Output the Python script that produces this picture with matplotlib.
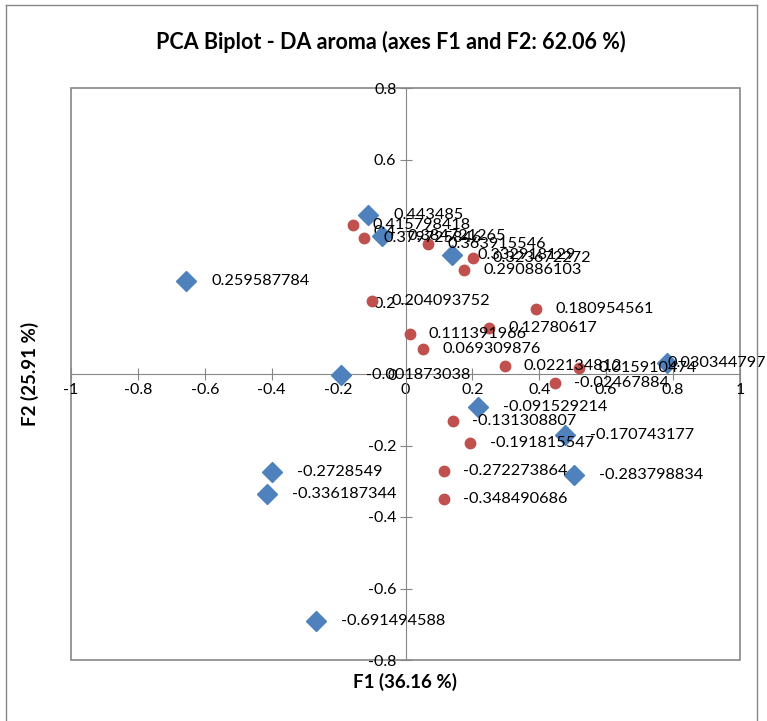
import matplotlib.pyplot as plt
from matplotlib.patches import Rectangle
from matplotlib.lines import Line2D

plt.rcParams['font.family'] = ['Lato', 'DejaVu Sans']

# observations (blue diamonds): F1, F2
obs_x = [-0.111, -0.069, -0.655, -0.194, -0.398, -0.413, -0.269,
         0.218, 0.478, 0.505, 0.783, 0.140]
obs_y = [0.443485, 0.384721265, 0.259587784, -0.001873038, -0.2728549,
         -0.336187344, -0.691494588, -0.091529214, -0.170743177,
         -0.283798834, 0.030344797, 0.332918129]

# variables (red dots): F1, F2
var_x = [-0.158, -0.123, 0.066, 0.203, 0.176, -0.099, 0.012, 0.051,
         0.251, 0.389, 0.296, 0.520, 0.446, 0.141, 0.194, 0.114, 0.114]
var_y = [0.415798418, 0.379725846, 0.363915546, 0.323672272, 0.290886103,
         0.204093752, 0.111391966, 0.069309876, 0.12780617, 0.180954561,
         0.022134812, 0.015910474, -0.02467884, -0.131308807,
         -0.191815547, -0.272273864, -0.348490686]

ticks_x = [-1, -0.8, -0.6, -0.4, -0.2, 0, 0.2, 0.4, 0.6, 0.8, 1]
ticks_y = [-0.8, -0.6, -0.4, -0.2, 0, 0.2, 0.4, 0.6, 0.8]

gray = '#868686'

fig = plt.figure(figsize=(7.67, 7.21), dpi=100)
ax = fig.add_axes([71 / 767, 1 - 660 / 721, 669 / 767, 572 / 721])

ax.plot(var_x, var_y, 'o', color='#C0504D', markersize=7.5, zorder=3)
ax.plot(obs_x, obs_y, 'D', color='#4F81BD', markersize=10.5, zorder=4)

for x, y in zip(var_x, var_y):
    ax.annotate(f'{y:.9g}', (x, y), xytext=(14, 0), textcoords='offset points',
                va='center', ha='left', fontsize=11.7, zorder=5)
for x, y in zip(obs_x, obs_y):
    # the label at the right edge is pushed back inside the chart, like Excel does
    dx = 0 if x > 0.7 else 18
    ax.annotate(f'{y:.9g}', (x, y), xytext=(dx, 0), textcoords='offset points',
                va='center', ha='left', fontsize=11.7, zorder=5)

ax.set_xlim(-1, 1)
ax.set_ylim(-0.8, 0.8)
ax.set_xticks(ticks_x)
ax.set_yticks(ticks_y)
ax.set_xticklabels([f'{t:g}' for t in ticks_x])
ax.set_yticklabels([f'{t:g}' for t in ticks_y])

for side in ['top', 'right']:
    ax.spines[side].set_visible(False)
ax.spines['left'].set_position('zero')
ax.spines['bottom'].set_position('zero')
ax.spines['left'].set_color(gray)
ax.spines['bottom'].set_color(gray)
ax.tick_params(direction='inout', length=9, color=gray, labelsize=11.5, pad=2)

# plot area frame
ax.add_patch(Rectangle((0, 0), 1, 1, transform=ax.transAxes, fill=False,
                       edgecolor=gray, linewidth=1.2, clip_on=False, zorder=1))

# chart area border
fig.add_artist(Line2D([6 / 767, 6 / 767], [0, 1 - 5 / 721], color=gray, lw=1))
fig.add_artist(Line2D([6 / 767, 757 / 767], [1 - 5 / 721, 1 - 5 / 721], color=gray, lw=1))
fig.add_artist(Line2D([757 / 767, 757 / 767], [0, 1 - 5 / 721], color=gray, lw=1))

fig.text(391 / 767, 1 - 42 / 721, 'PCA Biplot - DA aroma (axes F1 and F2: 62.06 %)',
         ha='center', va='center', fontsize=15.5, fontweight='bold')
fig.text(405 / 767, 1 - 682 / 721, 'F1 (36.16 %)', ha='center', va='center',
         fontsize=13.5, fontweight='bold')
fig.text(30 / 767, 1 - 374 / 721, 'F2 (25.91 %)', ha='center', va='center',
         fontsize=13.5, fontweight='bold', rotation=90)

fig.savefig('out.png', dpi=100)
